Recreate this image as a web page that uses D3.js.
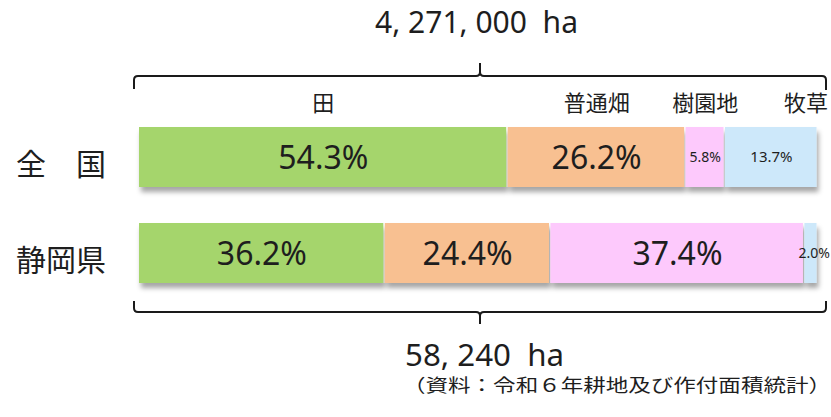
<!DOCTYPE html>
<html>
<head>
<meta charset="utf-8">
<script src="https://cdn.jsdelivr.net/npm/d3@7"></script>
<style>
  html, body { margin: 0; padding: 0; background: #fff; }
  text { font-family: "Noto Sans CJK JP", "Noto Sans", sans-serif; fill: #1e1e1e; }
</style>
</head>
<body>
<div id="container"></div>
<script>
// 耕地面積の内訳（全国・静岡県）
const regions = ["全　国", "静岡県"];
const categories = ["田", "普通畑", "樹園地", "牧草"];
const nationalShare = [54.3, 26.2, 5.8, 13.7];
const shizuokaShare = [36.2, 24.4, 37.4, 2.0];
const totalArea = [4271000, 58240];
const source = "（資料：令和６年耕地及び作付面積統計）";

const colors = ["#a5d56c", "#f8c091", "#fdc9fc", "#cde8fa"];

const width = 831, height = 417;

const svg = d3.select('#container')
    .append('svg')
    .attr('width', width)
    .attr('height', height);

const defs = svg.append('defs');
const shadow = defs.append('filter')
    .attr('id', 'shadow')
    .attr('x', '-5%').attr('y', '-20%')
    .attr('width', '110%').attr('height', '150%');
shadow.append('feDropShadow')
    .attr('dx', 2).attr('dy', 5)
    .attr('stdDeviation', 2.5)
    .attr('flood-color', '#000')
    .attr('flood-opacity', 0.35);

const x = d3.scaleLinear()
    .domain([0, 100])
    .range([139, 818]);

const y = d3.scaleBand()
    .domain(regions)
    .range([127, 283])
    .paddingInner(0.375);

const rows = [nationalShare, shizuokaShare].map((vals, i) => {
    let acc = 0;
    return {
        region: regions[i],
        segs: vals.map((v, j) => {
            const s = {region: regions[i], cat: categories[j], value: v, x0: acc, x1: acc + v, idx: j};
            acc += v;
            return s;
        })
    };
});

// bars
const rowG = svg.append('g')
    .selectAll('g')
    .data(rows)
    .join('g')
    .attr('filter', 'url(#shadow)');

rowG.selectAll('rect')
    .data(d => d.segs)
    .join('rect')
    .attr('x', d => x(d.x0))
    .attr('y', d => y(d.region))
    .attr('width', d => Math.max(0, x(d.x1) - x(d.x0) - 1.5))
    .attr('height', y.bandwidth())
    .attr('fill', d => colors[d.idx]);

// value labels
const labelSize = v => v < 10 ? 14 : (v < 20 ? 15 : 32);
svg.append('g')
    .selectAll('text')
    .data(rows.flatMap(r => r.segs))
    .join('text')
    .attr('x', d => d.value < 3 ? x(d.x1) + 12 : (x(d.x0) + x(d.x1)) / 2)
    .attr('y', d => y(d.region) + y.bandwidth() / 2 + labelSize(d.value) * 0.36)
    .attr('text-anchor', d => d.value < 3 ? 'end' : 'middle')
    .style('font-family', '"Noto Sans", sans-serif')
    .style('font-size', d => labelSize(d.value) + 'px')
    .text(d => d.value.toFixed(1) + '%');

// category labels above the national bar
svg.append('g')
    .selectAll('text')
    .data(rows[0].segs)
    .join('text')
    .attr('x', (d, i) => i === categories.length - 1 ? x(100) + 10 : (x(d.x0) + x(d.x1)) / 2)
    .attr('y', 111)
    .attr('text-anchor', (d, i) => i === categories.length - 1 ? 'end' : 'middle')
    .style('font-size', '22px')
    .text(d => d.cat);

// region labels
svg.append('g')
    .selectAll('text')
    .data(regions)
    .join('text')
    .attr('x', 16)
    .attr('y', d => y(d) + y.bandwidth() / 2 + 18)
    .style('font-size', '30px')
    .text(d => d);

// braces
const bl = x(0) - 5, br = x(100) + 8, bc = (bl + br) / 2;
const r = 4;
const topY = 76, bottomY = 312;
svg.append('path')
    .attr('d', `M${bl},89 L${bl},${topY + r} Q${bl},${topY} ${bl + r},${topY}
        L${bc - 4},${topY} Q${bc},${topY} ${bc},${topY - 4} L${bc},63
        M${bc},${topY - 4} Q${bc},${topY} ${bc + 4},${topY}
        L${br - r},${topY} Q${br},${topY} ${br},${topY + r} L${br},90`)
    .attr('fill', 'none')
    .attr('stroke', '#1a1a1a')
    .attr('stroke-width', 2);

svg.append('path')
    .attr('d', `M${bl},301 L${bl},${bottomY - r} Q${bl},${bottomY} ${bl + r},${bottomY}
        L${bc - 4},${bottomY} Q${bc},${bottomY} ${bc},${bottomY + 4} L${bc},324
        M${bc},${bottomY + 4} Q${bc},${bottomY} ${bc + 4},${bottomY}
        L${br - r},${bottomY} Q${br},${bottomY} ${br},${bottomY - r} L${br},301`)
    .attr('fill', 'none')
    .attr('stroke', '#1a1a1a')
    .attr('stroke-width', 2);

// totals
const fmt = d => d3.format(',')(d).replace(/,/g, ', ') + '  ha';
svg.append('text')
    .attr('x', 375)
    .attr('y', 33)
    .attr('textLength', 203)
    .attr('lengthAdjust', 'spacingAndGlyphs')
    .style('white-space', 'pre')
    .style('font-family', '"Noto Sans", sans-serif')
    .style('font-size', '30px')
    .text(fmt(totalArea[0]));

svg.append('text')
    .attr('x', 405)
    .attr('y', 366)
    .attr('textLength', 159)
    .attr('lengthAdjust', 'spacingAndGlyphs')
    .style('white-space', 'pre')
    .style('font-family', '"Noto Sans", sans-serif')
    .style('font-size', '30px')
    .text(fmt(totalArea[1]));

svg.append('text')
    .attr('x', 403)
    .attr('y', 392)
    .attr('textLength', 428)
    .attr('lengthAdjust', 'spacingAndGlyphs')
    .style('font-size', '18px')
    .text(source);
</script>
</body>
</html>
